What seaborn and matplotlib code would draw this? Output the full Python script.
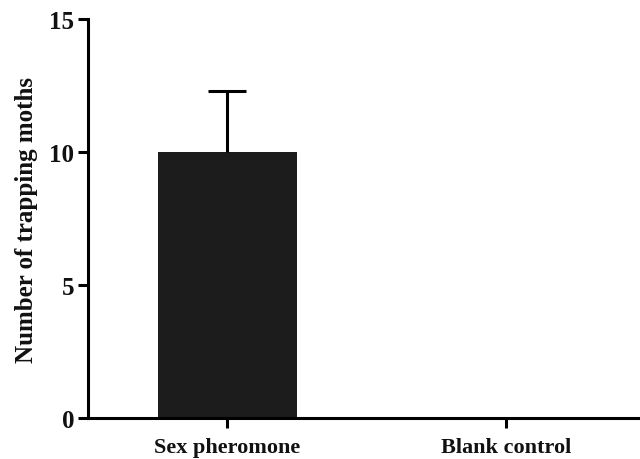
import matplotlib
matplotlib.use("Agg")
import matplotlib.pyplot as plt
import seaborn as sns
import pandas as pd
import numpy as np

categories = ["Sex pheromone", "Blank control"]
means = [10.0, 0.0]
errors = [2.3, 0.0]
y_ticks = [0, 5, 10, 15]

sns.set_theme(style="ticks")
plt.rcParams['font.family'] = ['Liberation Serif', 'DejaVu Serif']
plt.rcParams['font.weight'] = 'bold'
plt.rcParams['text.color'] = '#111111'
plt.rcParams['axes.labelcolor'] = '#111111'
plt.rcParams['xtick.color'] = '#111111'
plt.rcParams['ytick.color'] = '#111111'

df = pd.DataFrame({"group": categories, "value": means})

fig = plt.figure(figsize=(6.4, 4.6), dpi=100)
ax = fig.add_axes([0.1375, 0.0891, 0.8625, 0.8674])

sns.barplot(data=df, x="group", y="value", color="#1c1c1c", saturation=1,
            width=0.5, errorbar=None, ax=ax, edgecolor="#1c1c1c", linewidth=0)

xpos = np.arange(len(categories))
m = np.array(means)
e = np.array(errors)
mask = e > 0
# upper-only error bar: stem plus a single top cap
ax.vlines(xpos[mask], m[mask], m[mask] + e[mask], color="black", linewidth=2.2, zorder=3)
ax.plot(xpos[mask], m[mask] + e[mask], linestyle="none", marker="_",
        markersize=27, markeredgewidth=2.2, color="black", zorder=3)

ax.set_ylim(0, 15)
ax.set_yticks(y_ticks)
ax.set_xlim(-0.5, 1.48)
ax.set_xlabel("")
ax.set_ylabel("Number of trapping moths", fontsize=18, fontweight="bold", labelpad=8)
for s in ["top", "right"]:
    ax.spines[s].set_visible(False)
for s in ["left", "bottom"]:
    ax.spines[s].set_linewidth(2.2)
    ax.spines[s].set_color("black")
ax.tick_params(axis="both", direction="out", width=2.2, length=7, color="black")
ax.tick_params(axis="y", labelsize=18, pad=3)
ax.tick_params(axis="x", labelsize=16, pad=7)
for lab in ax.get_xticklabels() + ax.get_yticklabels():
    lab.set_fontweight("bold")

fig.savefig("out.png", dpi=100)
